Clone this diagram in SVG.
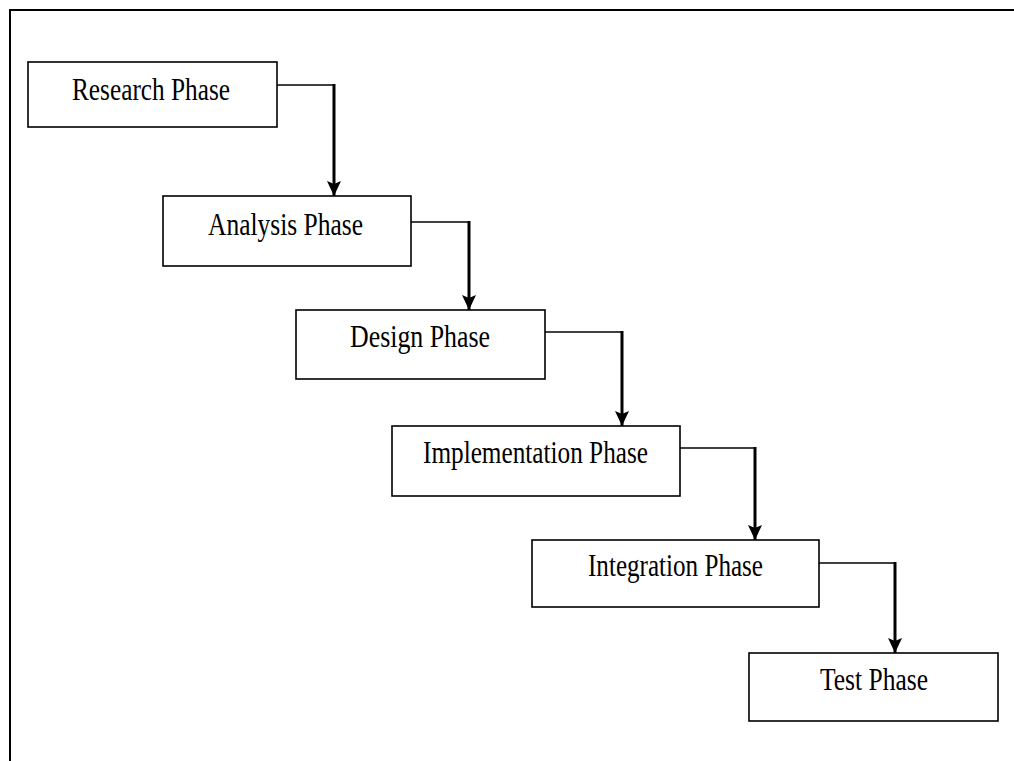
<svg xmlns="http://www.w3.org/2000/svg" width="1014" height="761" viewBox="0 0 1014 761">
<style>
.box{fill:#fff;stroke:#000;stroke-width:1.6}
.lbl{font-family:"Liberation Serif","Times New Roman",serif;font-size:31px;fill:#000}
.h{fill:none;stroke:#000;stroke-width:1.6}
.v{fill:none;stroke:#000;stroke-width:3}
.frame{fill:none;stroke:#000;stroke-width:2}
</style>
<defs>
<marker id="ah" viewBox="0 0 15 14" refX="15" refY="7" markerWidth="15" markerHeight="14" markerUnits="userSpaceOnUse" orient="auto">
<path d="M0,0 L3,7 L0,14 L15,7 Z" fill="#000"/>
</marker>
</defs>
<rect width="1014" height="761" fill="#fff"/>
<path class="frame" d="M10,761 V10 H1014"/>
<g id="connectors">
<path class="h" d="M277,85 H334"/><path class="v" d="M334,84 V196" marker-end="url(#ah)"/>
<path class="h" d="M411,222 H469"/><path class="v" d="M469,221 V310" marker-end="url(#ah)"/>
<path class="h" d="M545,332 H622"/><path class="v" d="M622,331 V426" marker-end="url(#ah)"/>
<path class="h" d="M680,448 H755"/><path class="v" d="M755,447 V540" marker-end="url(#ah)"/>
<path class="h" d="M819,563 H895"/><path class="v" d="M895,562 V653" marker-end="url(#ah)"/>
</g>
<g id="research">
<rect class="box" x="28" y="62" width="249" height="65"/>
<text class="lbl" x="72" y="100" textLength="158" lengthAdjust="spacingAndGlyphs">Research Phase</text>
</g>
<g id="analysis">
<rect class="box" x="163" y="196" width="248" height="70"/>
<text class="lbl" x="208" y="235" textLength="155" lengthAdjust="spacingAndGlyphs">Analysis Phase</text>
</g>
<g id="design">
<rect class="box" x="296" y="310" width="249" height="69"/>
<text class="lbl" x="350" y="347" textLength="140" lengthAdjust="spacingAndGlyphs">Design Phase</text>
</g>
<g id="implementation">
<rect class="box" x="392" y="426" width="288" height="70"/>
<text class="lbl" x="423" y="463" textLength="225" lengthAdjust="spacingAndGlyphs">Implementation Phase</text>
</g>
<g id="integration">
<rect class="box" x="532" y="540" width="287" height="67"/>
<text class="lbl" x="588" y="576" textLength="175" lengthAdjust="spacingAndGlyphs">Integration Phase</text>
</g>
<g id="test">
<rect class="box" x="749" y="653" width="249" height="68"/>
<text class="lbl" x="820" y="690" textLength="108" lengthAdjust="spacingAndGlyphs">Test Phase</text>
</g>
</svg>
